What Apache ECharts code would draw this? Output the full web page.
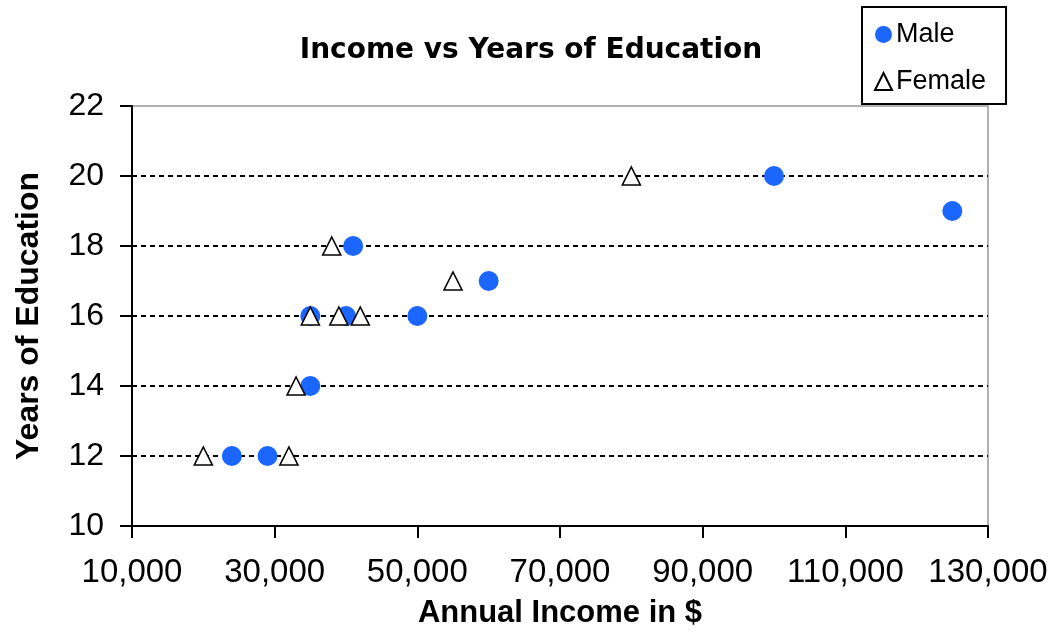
<!DOCTYPE html>
<html>
<head>
<meta charset="utf-8">
<script src="https://cdn.jsdelivr.net/npm/echarts@6/dist/echarts.min.js"></script>
<style>
  html, body { margin: 0; padding: 0; background: #fff; }
  #chart { width: 1054px; height: 634px; }
</style>
</head>
<body>
<div id="chart"></div>
<script>
// income ($) and years of education
var maleIncome = [24000, 29000, 35000, 35000, 40000, 41000, 50000, 60000, 100000, 125000];
var maleYears  = [12, 12, 14, 16, 16, 18, 16, 17, 20, 19];
var femaleIncome = [20000, 32000, 33000, 35000, 39000, 42000, 38000, 55000, 80000];
var femaleYears  = [12, 12, 14, 16, 16, 16, 18, 17, 20];

var font = 'Arial, "Liberation Sans", sans-serif';
var wideBold = '"DejaVu Sans", Verdana, sans-serif';

function pairs(xs, ys) {
    return xs.map(function (x, i) { return [x, ys[i]]; });
}

var myChart = echarts.init(document.getElementById('chart'));

var option = {
    backgroundColor: '#fff',
    animation: false,
    title: {
        text: 'Income vs Years of Education',
        left: 526,
        textAlign: 'center',
        top: 32,
        textStyle: { fontFamily: wideBold, fontSize: 28, fontWeight: 'bold', color: '#000' }
    },
    legend: {
        orient: 'vertical',
        left: 862,
        top: 7,
        padding: [14, 20, 9, 12],
        itemGap: 20,
        itemWidth: 17,
        itemHeight: 17,
        borderColor: '#000',
        borderWidth: 2,
        textStyle: { fontFamily: font, fontSize: 27, color: '#000', padding: [0, 0, 0, -1] },
        data: ['Male', 'Female']
    },
    grid: {
        left: 132,
        right: 66,
        top: 106,
        bottom: 105,
        show: true,
        borderColor: '#999',
        borderWidth: 1.5
    },
    xAxis: {
        type: 'value',
        min: 10000,
        max: 130000,
        interval: 20000,
        name: 'Annual Income in $',
        nameLocation: 'middle',
        nameGap: 72,
        nameTextStyle: { fontFamily: font, fontSize: 31, fontWeight: 'bold', color: '#000' },
        axisLine: { show: true, lineStyle: { color: '#000', width: 2 } },
        axisTick: { show: true, length: 12, lineStyle: { color: '#000', width: 2 } },
        axisLabel: {
            fontFamily: font, fontSize: 33, color: '#000', margin: 30,
            formatter: function (v) { return v.toLocaleString('en-US'); }
        },
        splitLine: { show: false }
    },
    yAxis: {
        type: 'value',
        min: 10,
        max: 22,
        interval: 2,
        name: 'Years of Education',
        nameLocation: 'middle',
        nameGap: 87,
        nameTextStyle: { fontFamily: font, fontSize: 32, fontWeight: 'bold', color: '#000' },
        axisLine: { show: true, lineStyle: { color: '#000', width: 2 } },
        axisTick: { show: true, length: 12, lineStyle: { color: '#000', width: 2 } },
        axisLabel: { fontFamily: font, fontSize: 32, color: '#000', margin: 28 },
        splitLine: {
            show: true,
            showMinLine: false,
            showMaxLine: false,
            lineStyle: { color: '#000', type: [5, 4], width: 1.8 }
        }
    },
    series: [{
        name: 'Male',
        type: 'scatter',
        symbol: 'circle',
        symbolSize: 20,
        itemStyle: { color: '#1a66ff', opacity: 1 },
        data: pairs(maleIncome, maleYears)
    }, {
        name: 'Female',
        type: 'scatter',
        symbol: 'triangle',
        symbolSize: 18,
        itemStyle: { color: '#fff', borderColor: '#000', borderWidth: 1.6, opacity: 1 },
        data: pairs(femaleIncome, femaleYears)
    }]
};

myChart.setOption(option);
</script>
</body>
</html>
